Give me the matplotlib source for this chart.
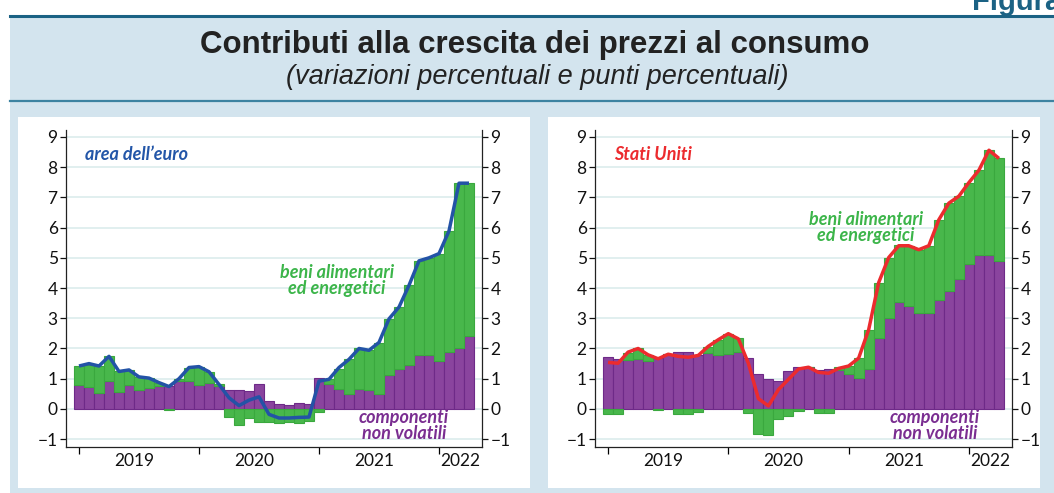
import numpy as np
import matplotlib
matplotlib.use("Agg")
import matplotlib.pyplot as plt
from matplotlib.patches import Rectangle
from matplotlib.lines import Line2D

# mesi da gen 2019 ad apr 2022
years = ['2019', '2020', '2021', '2022']
year_starts = [0, 12, 24, 36]
yticks = list(range(-1, 10))

# area dell'euro
ea_core = [0.78, 0.71, 0.53, 0.93, 0.57, 0.80, 0.63, 0.68, 0.76, 0.76,
           0.93, 0.93, 0.78, 0.87, 0.76, 0.64, 0.64, 0.59, 0.84, 0.26,
           0.17, 0.14, 0.20, 0.17, 1.03, 0.81, 0.67, 0.51, 0.67, 0.61,
           0.51, 1.11, 1.31, 1.44, 1.80, 1.80, 1.57, 1.87, 2.03, 2.41]
ea_food_energy = [0.64, 0.76, 0.89, 0.81, 0.67, 0.49, 0.43, 0.34, 0.11, -0.02,
                  0.05, 0.41, 0.62, 0.36, 0.05, -0.27, -0.53, -0.30, -0.44, -0.44,
                  -0.45, -0.42, -0.48, -0.41, -0.11, 0.17, 0.66, 1.13, 1.33, 1.35,
                  1.67, 1.87, 2.06, 2.65, 3.10, 3.20, 3.57, 4.02, 5.44, 5.06]
ea_headline = [1.42, 1.50, 1.42, 1.74, 1.24, 1.29, 1.06, 1.02, 0.87, 0.74,
               1.00, 1.37, 1.40, 1.23, 0.81, 0.37, 0.11, 0.29, 0.40, -0.18,
               -0.30, -0.30, -0.28, -0.27, 0.92, 0.98, 1.37, 1.64, 2.00, 1.94,
               2.20, 2.98, 3.37, 4.09, 4.90, 5.00, 5.14, 5.89, 7.47, 7.47]

# Stati Uniti
us_core = [1.71, 1.64, 1.62, 1.66, 1.58, 1.68, 1.81, 1.88, 1.88, 1.79,
           1.84, 1.78, 1.81, 1.88, 1.68, 1.14, 0.98, 0.93, 1.26, 1.38,
           1.38, 1.29, 1.31, 1.29, 1.14, 1.03, 1.31, 2.34, 3.01, 3.54,
           3.40, 3.16, 3.18, 3.59, 3.89, 4.29, 4.78, 5.10, 5.10, 4.90]
us_food_energy = [-0.16, -0.16, 0.22, 0.35, 0.21, -0.02, 0.01, -0.16, -0.16, -0.10,
                  0.20, 0.51, 0.68, 0.46, -0.13, -0.82, -0.86, -0.32, -0.24, -0.08,
                  0.00, -0.12, -0.15, 0.09, 0.28, 0.65, 1.31, 1.84, 2.00, 1.88,
                  2.00, 2.11, 2.22, 2.67, 2.92, 2.75, 2.71, 2.80, 3.46, 3.39]
us_headline = [1.54, 1.51, 1.88, 2.00, 1.79, 1.66, 1.81, 1.74, 1.71, 1.77,
               2.07, 2.29, 2.49, 2.32, 1.51, 0.34, 0.10, 0.64, 0.98, 1.32,
               1.38, 1.21, 1.18, 1.34, 1.42, 1.68, 2.62, 4.18, 5.01, 5.40,
               5.40, 5.27, 5.40, 6.26, 6.81, 7.04, 7.49, 7.90, 8.56, 8.29]

PURPLE, PURPLE_EDGE = '#8a449e', '#6e2a88'
GREEN, GREEN_EDGE = '#48b74b', '#3aa83e'
BLUE, RED = '#2353a6', '#ec2b2e'
LBL_FONT = ['Lato', 'DejaVu Sans']
HEAD_FONT = ['Liberation Sans Narrow', 'Liberation Sans']
TICK_SIZE = 12.5
NOTE_SIZE = 13

W, H = 1054, 493


def fx(px):
    return px / W


def fy(py):
    return 1 - py / H


def draw_panel(ax, core, fe, headline, line_color, name, name_color, fe_xy, core_xy):
    core = np.array(core)
    fe = np.array(fe)
    x = np.arange(len(core))
    ax.bar(x, core, width=1.0, color=PURPLE, edgecolor=PURPLE_EDGE, linewidth=0.8, zorder=2)
    bottom = np.where(fe >= 0, core, 0)
    ax.bar(x, fe, width=1.0, bottom=bottom, color=GREEN, edgecolor=GREEN_EDGE, linewidth=0.8, zorder=2)
    ax.plot(x, headline, color=line_color, lw=2.5, zorder=3, solid_joinstyle='round', solid_capstyle='butt')

    ax.set_xlim(-1.3, 40.3)
    ax.set_ylim(-1.26, 9.23)
    ax.set_yticks(yticks)
    ax.yaxis.grid(True, color='#dcecec', lw=1.2)
    ax.set_axisbelow(True)
    ax.tick_params(axis='y', left=True, right=True, labelleft=True, labelright=True,
                   direction='out', length=4, width=0.9, pad=2, labelsize=TICK_SIZE, colors='#111111')
    ax.set_xticks(year_starts)
    ax.set_xticklabels([])
    ax.set_xticks([5.5, 17.5, 29.5, 38.1], minor=True)
    ax.set_xticklabels(years, minor=True)
    ax.tick_params(axis='x', which='major', direction='out', length=5, width=0.9)
    ax.tick_params(axis='x', which='minor', length=0, pad=4, labelsize=TICK_SIZE, colors='#111111')
    for lab in ax.get_xticklabels(minor=True) + ax.yaxis.get_majorticklabels():
        lab.set_family(LBL_FONT)
    for t in ax.yaxis.get_major_ticks():
        t.label2.set_family(LBL_FONT)
    ax.spines['top'].set_visible(False)
    for s in ['left', 'right', 'bottom']:
        ax.spines[s].set_linewidth(0.9)
        ax.spines[s].set_color('#222222')

    ax.text(0.6, 8.42, name, color=name_color, fontsize=NOTE_SIZE, fontweight='bold',
            style='italic', family=LBL_FONT, ha='left', va='center')
    ax.text(fe_xy[0], fe_xy[1], 'beni alimentari\ned energetici', color='#3cb54a', fontsize=NOTE_SIZE,
            fontweight='bold', style='italic', family=LBL_FONT, ha='center', va='center',
            linespacing=0.95)
    ax.text(core_xy[0], core_xy[1], 'componenti\nnon volatili', color='#7a2e91', fontsize=NOTE_SIZE,
            fontweight='bold', style='italic', family=LBL_FONT, ha='center', va='center',
            linespacing=0.95)


fig = plt.figure(figsize=(W / 100, H / 100), dpi=100)
fig.patch.set_facecolor('white')

# sfondo e cornici
fig.patches.append(Rectangle((fx(10), 0), 1 - fx(10), fy(16), transform=fig.transFigure,
                             facecolor='#d3e4ee', edgecolor='none', zorder=-2))
fig.add_artist(Line2D([fx(10), 1], [fy(16), fy(16)], color='#1b6284', lw=2.2, zorder=-1))
fig.add_artist(Line2D([fx(10), 1], [fy(101), fy(101)], color='#3d83a1', lw=1.6, zorder=-1))
for x0, x1 in [(18, 530), (548, 1040)]:
    fig.patches.append(Rectangle((fx(x0), fy(488)), fx(x1 - x0), (488 - 117) / H,
                                 transform=fig.transFigure, facecolor='white',
                                 edgecolor='none', zorder=-1))

fig.text(fx(972), fy(10), 'Figura', color='#1b6284', fontsize=21, fontweight='bold',
         family=HEAD_FONT, ha='left', va='baseline')
fig.text(fx(535), fy(45), 'Contributi alla crescita dei prezzi al consumo', color='#222222',
         fontsize=22.5, fontweight='bold', family=HEAD_FONT, ha='center', va='center')
fig.text(fx(537), fy(77), '(variazioni percentuali e punti percentuali)', color='#222222',
         fontsize=19.5, style='italic', family=HEAD_FONT, ha='center', va='center')

ax1 = fig.add_axes([fx(66), fy(447), fx(482 - 66), (447 - 130) / H])
ax2 = fig.add_axes([fx(595), fy(447), fx(1012 - 595), (447 - 130) / H])
for ax in (ax1, ax2):
    ax.set_facecolor('none')
    ax.set_zorder(2)

draw_panel(ax1, ea_core, ea_food_energy, ea_headline, BLUE, 'area dell\u2019euro', '#2356a8',
           (25.8, 4.24), (32.5, -0.55))
draw_panel(ax2, us_core, us_food_energy, us_headline, RED, 'Stati Uniti', '#ec2b2e',
           (25.7, 6.0), (32.6, -0.55))

fig.savefig('out.png', dpi=100)
